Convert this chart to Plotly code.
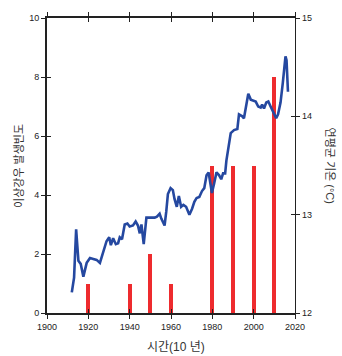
import plotly.graph_objects as go

# Extreme rainfall frequency per decade (left axis)
decades = [1920, 1940, 1950, 1960, 1980, 1990, 2000, 2010]
frequency = [1, 1, 2, 1, 5, 5, 5, 8]

# Annual mean temperature (right axis)
years = [1912.0, 1913.1, 1914.1, 1915.2, 1916.3, 1917.6, 1919.2, 1920.8, 1922.4, 1924.0,
         1925.6, 1927.2, 1928.8, 1930.1, 1930.9, 1932.0, 1933.3, 1934.4, 1935.2, 1936.3,
         1937.6, 1938.9, 1940.0, 1941.6, 1942.9, 1944.0, 1944.9, 1945.7, 1946.8, 1948.1,
         1949.7, 1952.1, 1953.2, 1954.5, 1955.3, 1956.9, 1957.7, 1958.5, 1959.8, 1960.9,
         1961.7, 1962.8, 1963.8, 1964.9, 1966.0, 1967.3, 1968.9, 1970.2, 1971.3, 1972.4,
         1973.7, 1975.0, 1976.1, 1977.2, 1978.2, 1978.8, 1979.8, 1980.9, 1982.0, 1983.3,
         1984.3, 1985.2, 1986.2, 1986.8, 1988.1, 1988.9, 1990.5, 1992.1, 1992.9, 1994.5,
         1995.3, 1996.4, 1997.4, 1998.6, 1999.7, 2001.0, 2002.2, 2003.4, 2004.1, 2005.0,
         2006.1, 2007.1, 2008.2, 2009.8, 2010.9, 2011.8, 2013.0, 2014.1, 2015.4, 2015.9,
         2016.6]
temps = [12.21, 12.36, 12.85, 12.53, 12.50, 12.37, 12.51, 12.56, 12.55, 12.54,
         12.51, 12.63, 12.73, 12.77, 12.69, 12.76, 12.70, 12.71, 12.77, 12.75,
         12.90, 12.91, 12.88, 12.89, 12.93, 12.89, 12.81, 12.90, 12.70, 12.97,
         12.97, 12.97, 12.98, 13.01, 12.96, 12.89, 13.03, 13.21, 13.27, 13.25,
         13.16, 13.08, 13.19, 13.08, 13.10, 13.08, 13.00, 13.06, 13.13, 13.17,
         13.18, 13.24, 13.27, 13.40, 13.43, 13.35, 13.22, 13.32, 13.43, 13.40,
         13.36, 13.42, 13.42, 13.55, 13.70, 13.83, 13.86, 13.87, 14.02, 14.00,
         13.98, 14.12, 14.23, 14.17, 14.16, 14.15, 14.10, 14.09, 14.12, 14.08,
         14.14, 14.15, 14.10, 14.02, 13.98, 14.02, 14.14, 14.34, 14.61, 14.57,
         14.25]

x_ticks = [1900, 1920, 1940, 1960, 1980, 2000, 2020]
left_ticks = [0, 2, 4, 6, 8, 10]
right_ticks = [12, 13, 14, 15]

FONT = "Liberation Sans, Arial, Noto Sans CJK KR, sans-serif"
AX = "#222222"

fig = go.Figure()
fig.add_trace(go.Bar(x=decades, y=frequency, width=1.8, marker=dict(color="#ee2b2e", line=dict(width=0)),
                     xaxis="x", yaxis="y", showlegend=False))
fig.add_trace(go.Scatter(x=years, y=temps, mode="lines", line=dict(color="#2548a0", width=2.6),
                         xaxis="x", yaxis="y2", showlegend=False))
# empty helpers so that the crossing-tick axes are drawn
fig.add_trace(go.Scatter(x=[], y=[], xaxis="x2", yaxis="y3", showlegend=False))
fig.add_trace(go.Scatter(x=[], y=[], xaxis="x2", yaxis="y4", showlegend=False))

common_tick = dict(ticklen=4, tickwidth=1.3, tickcolor=AX)

fig.update_layout(
    width=342, height=356,
    margin=dict(l=47, r=47, t=14, b=43),
    paper_bgcolor="white", plot_bgcolor="white",
    font=dict(family=FONT, size=9, color="#222222"),
    bargap=0,
    xaxis=dict(range=[1900, 2020], tickvals=x_ticks, ticks="outside", showline=True, linewidth=2,
               linecolor=AX, mirror="ticks", showgrid=False, zeroline=False, anchor="y",
               tickfont=dict(size=9), **common_tick),
    xaxis2=dict(range=[1900, 2020], tickvals=x_ticks, ticks="inside", showline=False, mirror="ticks",
                showticklabels=False, showgrid=False, zeroline=False, overlaying="x", anchor="y3",
                **common_tick),
    yaxis=dict(range=[0, 10], tickvals=left_ticks, ticks="outside", showline=True, linewidth=2,
               linecolor=AX, showgrid=False, zeroline=False, anchor="x", tickfont=dict(size=9),
               **common_tick),
    yaxis2=dict(range=[12, 15], tickvals=right_ticks, ticks="outside", side="right", overlaying="y",
                showline=True, linewidth=1.2, linecolor=AX, showgrid=False, zeroline=False,
                anchor="x", tickfont=dict(size=9), **common_tick),
    yaxis3=dict(range=[0, 10], tickvals=left_ticks, ticks="inside", showline=False, showticklabels=False,
                showgrid=False, zeroline=False, overlaying="y", side="left", anchor="x2",
                **common_tick),
    yaxis4=dict(range=[12, 15], tickvals=right_ticks, ticks="inside", showline=False, showticklabels=False,
                showgrid=False, zeroline=False, overlaying="y", side="right", anchor="x2",
                **common_tick),
    annotations=[
        dict(text="시간(10 년)", xref="paper", yref="paper", x=0.52, y=-0.085, yanchor="top",
             showarrow=False, font=dict(size=12, color="#333333")),
        dict(text="이상강우 발생빈도", xref="paper", yref="paper", x=-0.115, y=0.5, xanchor="center",
             textangle=-90, showarrow=False, font=dict(size=11, color="#333333")),
        dict(text="연평균 기온 (°C)", xref="paper", yref="paper", x=1.145, y=0.5, xanchor="center",
             textangle=90, showarrow=False, font=dict(size=11, color="#333333")),
    ],
)

fig.write_html("out.html")
